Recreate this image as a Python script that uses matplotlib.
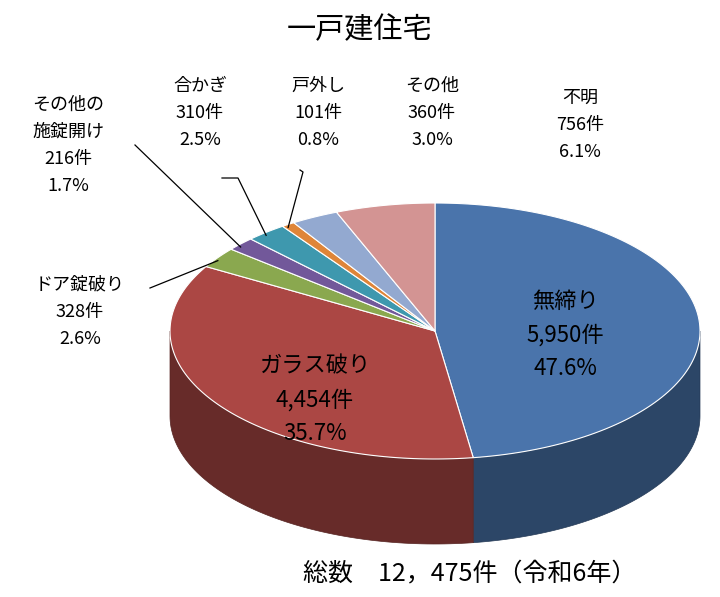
import numpy as np
import matplotlib
matplotlib.use("Agg")
import matplotlib.pyplot as plt
from matplotlib.patches import Polygon
from matplotlib.colors import to_rgb

plt.rcParams['font.family'] = ['Noto Sans CJK JP', 'DejaVu Sans']

categories = ["無締り", "ガラス破り", "ドア錠破り", "その他の\n施錠開け", "合かぎ", "戸外し", "その他", "不明"]
counts = [5950, 4454, 328, 216, 310, 101, 360, 756]
percents = ["47.6%", "35.7%", "2.6%", "1.7%", "2.5%", "0.8%", "3.0%", "6.1%"]
count_labels = ["5,950件", "4,454件", "328件", "216件", "310件", "101件", "360件", "756件"]
colors = ["#4A74AB", "#AB4744", "#8AA84F", "#72589A", "#3E98AE", "#DF8538", "#93A9D0", "#D39493"]

fig = plt.figure(figsize=(7.2, 5.97), dpi=100)
ax = fig.add_axes([0, 0, 1, 1])
ax.set_xlim(0, 720); ax.set_ylim(597, 0); ax.axis('off')

cx, cy, rx, ry, depth = 435, 331, 265, 128, 85
total = sum(counts)
fr = np.cumsum([0] + counts) / total
starts = 90 - fr[:-1] * 360
ends = 90 - fr[1:] * 360

def pt(t, dy=0):
    r = np.radians(t)
    return cx + rx * np.cos(r), cy - ry * np.sin(r) + dy

def dark(c, f=0.6):
    return tuple(v * f for v in to_rgb(c))

for s, e, c in zip(starts, ends, colors):
    a, b = e, s
    for off in (0, -360, 360):
        lo, hi = max(a + off, -180), min(b + off, 0)
        if hi > lo:
            ts = np.linspace(lo, hi, 80)
            top = [pt(t) for t in ts]
            bot = [pt(t, depth) for t in ts[::-1]]
            ax.add_patch(Polygon(top + bot, closed=True, fc=dark(c), ec=dark(c, 0.5), lw=0.5))

for s, e, c in zip(starts, ends, colors):
    ts = np.linspace(s, e, 120)
    poly = [(cx, cy)] + [pt(t) for t in ts]
    ax.add_patch(Polygon(poly, closed=True, fc=c, ec='white', lw=0.8))

ax.text(360, 30, "一戸建住宅", ha='center', va='center', fontsize=21)
ax.text(470, 573, "総数　12，475件（令和6年）", ha='center', va='center', fontsize=18)

ax.text(565, 335, f"{categories[0]}\n{count_labels[0]}\n{percents[0]}", ha='center', va='center', fontsize=16, linespacing=1.6)
ax.text(315, 400, f"{categories[1]}\n{count_labels[1]}\n{percents[1]}", ha='center', va='center', fontsize=16, linespacing=1.6)

outer = {2: (80, 312), 3: (68, 145), 4: (200, 113), 5: (318, 113), 6: (432, 113), 7: (580, 125)}
for i, (x, y) in outer.items():
    ax.text(x, y, f"{categories[i]}\n{count_labels[i]}\n{percents[i]}", ha='center', va='center', fontsize=13, linespacing=1.65)

mid = lambda i: pt((starts[i] + ends[i]) / 2)
lines = {2: [(150, 288)], 3: [(135, 145)], 4: [(222, 178), (238, 178)], 5: [(300, 170), (303, 172)]}
for i, pts in lines.items():
    mx, my = mid(i)
    xs = [p[0] for p in pts] + [mx]; ys = [p[1] for p in pts] + [my + 3]
    ax.plot(xs, ys, color='black', lw=0.9)

fig.savefig("out.png", dpi=100)
